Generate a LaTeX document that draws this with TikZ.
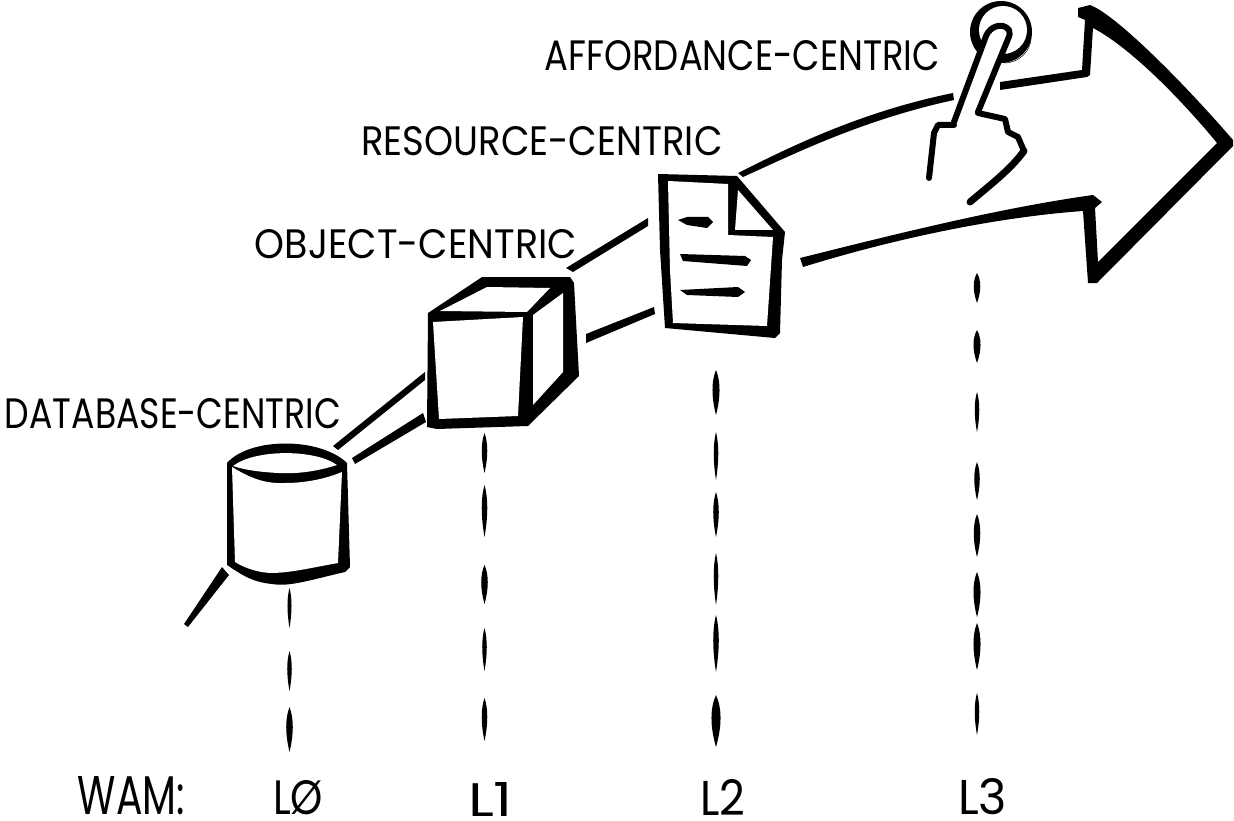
\documentclass[tikz,border=0pt]{standalone}
\usepackage{fontspec}
\usepackage{graphicx}
\newfontfamily\handfont{Poppins}
\newcommand{\lab}[6]{\node[lettering] (#1) at (#2,#3) {\resizebox{#4pt}{#5pt}{\handfont #6}};}
\newcommand{\lens}[4]{\fill[ink] (#1,#2) .. controls ({#1-#4*0.67},{#2+(#3-#2)*0.25}) and ({#1-#4*0.67},{#2+(#3-#2)*0.6}) .. (#1,#3) .. controls ({#1+#4*0.67},{#2+(#3-#2)*0.6}) and ({#1+#4*0.67},{#2+(#3-#2)*0.25}) .. cycle;}
\tikzset{
  lettering/.style={inner sep=0pt,outer sep=0pt,anchor=center,text=black},
  ink/.style={fill=black,draw=none},
  paper/.style={fill=white,draw=none},
  pen/.style={draw=black,line join=round,line cap=round}
}
\begin{document}
\begin{tikzpicture}[x=1pt,y=-1pt]
\useasboundingbox (0,0) rectangle (1234,821);
\fill[white] (0,0) rectangle (1234,821);

% connectors
\fill[ink] (222,567) -- (229,575) -- (188,627) -- (184,624) -- cycle;
\fill[ink] (333,446) -- (425,372) -- (425,380) -- (338,450) -- cycle;
\fill[ink] (352,458) -- (423,413) -- (426,422) -- (355,464) -- cycle;
\fill[ink] (566,268) -- (648,218) -- (648,226) -- (573,272) -- cycle;
\fill[ink] (586,334) -- (654,307) -- (655,314) -- (586,343) -- cycle;
\fill[ink] (738,173) .. controls (790,147) and (860,112) .. (953,93) -- (954,100) .. controls (862,120) and (794,154) .. (743,177) -- cycle;

% big arrow
\fill[ink] (1000,82) -- (1082,70) -- (1085,20) -- (1078,17) -- (1078,8) -- (1090,5)
  .. controls (1115,14) and (1183,82) .. (1233,140) -- (1233,146) -- (1097,283) -- (1088,283) -- (1083,211)
  .. controls (1000,217) and (900,237) .. (803,267) -- (800,258)
  .. controls (900,233) and (1000,208) .. (1093,195) -- (1102,202) -- (1095,208) -- (1098,262) -- (1217,143)
  .. controls (1190,110) and (1135,50) .. (1093,28) -- (1090,75) -- (1087,77) -- (1000,90) -- cycle;

% cylinder
\fill[ink] (227,463) .. controls (250,437) and (320,437) .. (347,463) -- (350,567) -- (345,572)
  .. controls (310,580) and (290,587) .. (272,584) .. controls (250,582) and (238,572) .. (227,565) -- cycle;
\fill[paper] (232,467) .. controls (250,478) and (265,484) .. (285,483) .. controls (310,483) and (330,477) .. (342,472) -- (338,563)
  .. controls (310,568) and (290,573) .. (270,573) .. controls (255,572) and (243,567) .. (235,562) -- cycle;
\fill[paper] (233,466) .. controls (255,449) and (315,449) .. (337,465) .. controls (315,472) and (295,474) .. (278,473) .. controls (260,472) and (245,470) .. (233,466) -- cycle;

% cube
\fill[ink] (428,313) -- (482,277) -- (570,277) -- (574,283) -- (579,376) -- (528,426) -- (437,429) -- (427,427) -- cycle;
\fill[paper] (433,322) -- (523,317) -- (518,416) -- (439,419) -- cycle;
\fill[paper] (440,311) -- (487,287) -- (550,288) -- (527,312) -- cycle;
\fill[paper] (533,315) -- (563,293) -- (563,372) -- (533,405) -- cycle;

% document
\fill[ink] (658,174) -- (737,176) -- (785,232) -- (782,260) -- (780,333) -- (775,338) -- (665,328) -- (660,250) -- cycle;
\fill[paper] (668,181) -- (728,184) -- (728,235) -- (773,237) -- (767,326) -- (673,323) -- (670,270) -- cycle;
\fill[paper] (738,190) -- (773,230) -- (735,230) -- cycle;
\fill[ink] (678,220) -- (687,217) -- (708,217) -- (713,222) -- (707,228) -- (687,225) -- cycle;
\fill[ink] (680,254) -- (745,256) -- (751,260) -- (747,266) -- (683,261) -- cycle;
\fill[ink] (680,290) -- (738,287) -- (745,292) -- (738,297) -- (687,295) -- cycle;

% lever and hand
\fill[ink] (1001,32) circle[radius=31];
\fill[paper] (1003,30) circle[radius=24];
\draw[black,line width=0.5pt] (1004,63) .. controls (1020,63) and (1031,50) .. (1031,38);
\fill[paper] (954,124) -- (990,28) -- (1010,28) -- (978,112) -- (1007,120) -- (1008,133) -- (1020,138) -- (1023,152) -- (972,200) -- (932,178) -- (937,125) -- cycle;
\draw[pen,line width=6pt] (954,122) -- (986,36) .. controls (990,26) and (1003,22) .. (1009,30) .. controls (1010,33) and (1010,35) .. (1008,39) -- (978,112);
\draw[pen,line width=6pt] (978,113) -- (1005,119) -- (1008,132) -- (1018,137) -- (1024,151);
\draw[pen,line width=7pt] (1024,151) .. controls (1010,170) and (990,185) .. (970,202);
\draw[pen,line width=6pt] (954,125) -- (938,125) -- (934,133) -- (929,178);

% guide marks
\lens{289.5}{588}{628}{4}
\lens{289.5}{651}{691}{4.5}
\lens{289.5}{707}{752}{6.5}
\lens{484.5}{433}{473}{5.5}
\lens{484.5}{485}{537}{5.5}
\lens{484.5}{565}{604}{6.5}
\lens{484.5}{628}{671}{4.5}
\lens{484.5}{698}{741}{5.5}
\lens{716}{370}{415}{7}
\lens{716}{432}{480}{4.5}
\lens{716}{492}{537}{5.5}
\lens{716}{553}{605}{4.5}
\lens{716}{615}{672}{5.5}
\lens{716}{695}{747}{9}
\lens{977}{273}{303}{6.5}
\lens{977}{330}{363}{7}
\lens{977}{392}{432}{4.5}
\lens{977}{462}{500}{5.5}
\lens{977}{514}{557}{6.5}
\lens{977}{572}{617}{7}
\lens{977}{623}{670}{7}
\lens{977}{693}{735}{4.5}

% labels
\lab{afford}{742.5}{56}{395}{30}{AFFORDANCE-CENTRIC}
\lab{resource}{542}{141.5}{361}{29}{RESOURCE-CENTRIC}
\lab{object}{416}{244.5}{322}{29}{OBJECT-CENTRIC}
\lab{database}{173}{414}{336}{30}{DATABASE-CENTRIC}
\lab{wam}{131.5}{796}{107}{38}{WAM:}
\lab{lzero}{298}{798}{50}{34}{LØ}
\lab{lone}{490.5}{799}{45}{34}{L1}
\lab{ltwo}{722.5}{797}{45}{36}{L2}
\lab{lthree}{982.5}{797}{49}{36}{L3}
\end{tikzpicture}
\end{document}
